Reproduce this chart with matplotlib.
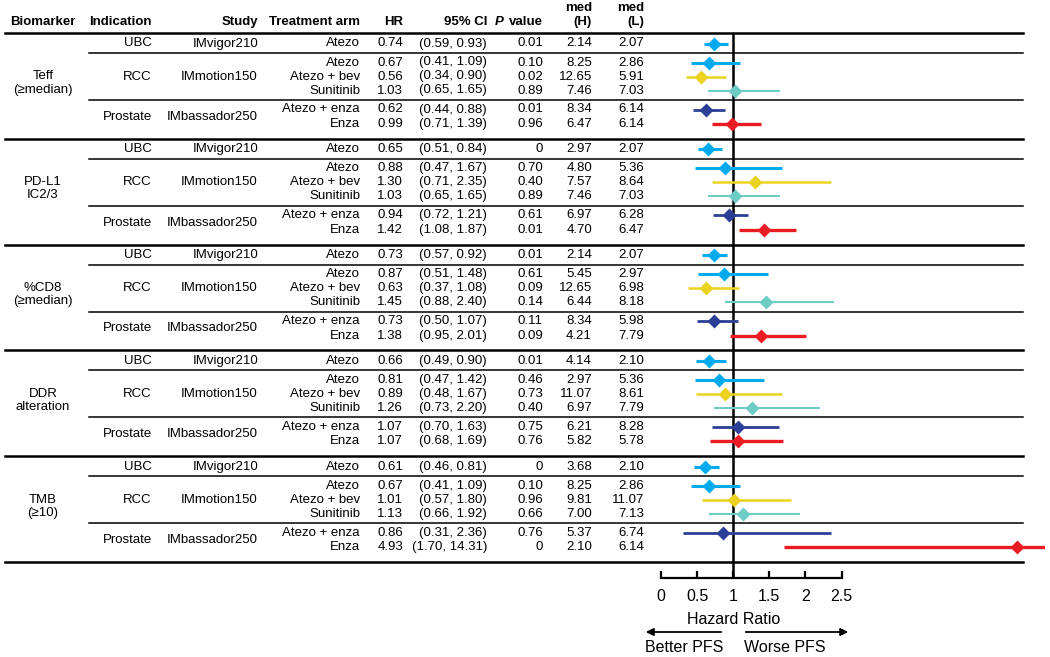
import numpy as np
import matplotlib.pyplot as plt

plt.rcParams['font.family'] = ['Liberation Sans', 'DejaVu Sans']

# table / forest data, one entry per row (5 biomarkers x 6 arms)
biomarkers = ['Teff\n(≥median)', 'PD-L1\nIC2/3', '%CD8\n(≥median)', 'DDR\nalteration', 'TMB\n(≥10)']
indications = ['UBC', 'RCC', 'Prostate']
studies = ['IMvigor210', 'IMmotion150', 'IMbassador250']
arms = ['Atezo', 'Atezo', 'Atezo + bev', 'Sunitinib', 'Atezo + enza', 'Enza']
arm_colors = ['#00aaee', '#00aaee', '#ebd21f', '#6dcdc4', '#2c3f96', '#ec1c24']
arm_widths = [2.2, 2.2, 1.8, 1.5, 2.0, 2.4]

hr = [0.74, 0.67, 0.56, 1.03, 0.62, 0.99,
      0.65, 0.88, 1.30, 1.03, 0.94, 1.42,
      0.73, 0.87, 0.63, 1.45, 0.73, 1.38,
      0.66, 0.81, 0.89, 1.26, 1.07, 1.07,
      0.61, 0.67, 1.01, 1.13, 0.86, 4.93]
ci_lo = [0.59, 0.41, 0.34, 0.65, 0.44, 0.71,
         0.51, 0.47, 0.71, 0.65, 0.72, 1.08,
         0.57, 0.51, 0.37, 0.88, 0.50, 0.95,
         0.49, 0.47, 0.48, 0.73, 0.70, 0.68,
         0.46, 0.41, 0.57, 0.66, 0.31, 1.70]
ci_hi = [0.93, 1.09, 0.90, 1.65, 0.88, 1.39,
         0.84, 1.67, 2.35, 1.65, 1.21, 1.87,
         0.92, 1.48, 1.08, 2.40, 1.07, 2.01,
         0.90, 1.42, 1.67, 2.20, 1.63, 1.69,
         0.81, 1.09, 1.80, 1.92, 2.36, 14.31]
p_val = [0.01, 0.10, 0.02, 0.89, 0.01, 0.96,
         0, 0.70, 0.40, 0.89, 0.61, 0.01,
         0.01, 0.61, 0.09, 0.14, 0.11, 0.09,
         0.01, 0.46, 0.73, 0.40, 0.75, 0.76,
         0, 0.10, 0.96, 0.66, 0.76, 0]
med_h = [2.14, 8.25, 12.65, 7.46, 8.34, 6.47,
         2.97, 4.80, 7.57, 7.46, 6.97, 4.70,
         2.14, 5.45, 12.65, 6.44, 8.34, 4.21,
         4.14, 2.97, 11.07, 6.97, 6.21, 5.82,
         3.68, 8.25, 9.81, 7.00, 5.37, 2.10]
med_l = [2.07, 2.86, 5.91, 7.03, 6.14, 6.14,
         2.07, 5.36, 8.64, 7.03, 6.28, 6.47,
         2.07, 2.97, 6.98, 8.18, 5.98, 7.79,
         2.10, 5.36, 8.61, 7.79, 8.28, 5.78,
         2.10, 2.86, 11.07, 7.13, 6.74, 6.14]

hr_ticks = [0, 0.5, 1, 1.5, 2, 2.5]

# layout, in pixels from the top-left
W, H = 1050, 657
top, sec_h = 33, 105.8
row_off = [10.5, 29.5, 43.5, 57.5, 76.5, 91]
ind_off = [10.5, 43.5, 83.75]
sep_off = [20, 67]
axis_y = 578
fs = 9.5

fig = plt.figure(figsize=(W / 100, H / 100), dpi=100)
tab = fig.add_axes([0, 0, 1, 1])
tab.set_xlim(0, W)
tab.set_ylim(H, 0)
tab.axis('off')

x0, x1 = 661, 1045
ax = fig.add_axes([x0 / W, (H - axis_y) / H, (x1 - x0) / W, (axis_y - top) / H])
ax.patch.set_alpha(0)
ax.set_xlim(0, (x1 - x0) / 72.2)
ax.set_ylim(axis_y, top)

# header
hdr = dict(fontsize=fs, fontweight='bold', va='center')
tab.text(43, 22, 'Biomarker', ha='center', **hdr)
tab.text(152, 22, 'Indication', ha='right', **hdr)
tab.text(258, 22, 'Study', ha='right', **hdr)
tab.text(360, 22, 'Treatment arm', ha='right', **hdr)
tab.text(403, 22, 'HR', ha='right', **hdr)
tab.text(487, 22, '95% CI', ha='right', **hdr)
tab.text(504, 22, 'P', ha='right', style='italic', **hdr)
tab.text(543, 22, 'value', ha='right', **hdr)
tab.text(592, 15, 'med\n(H)', ha='right', linespacing=1.15, **hdr)
tab.text(644, 15, 'med\n(L)', ha='right', linespacing=1.15, **hdr)
tab.plot([5, 1023], [top, top], color='black', lw=1.8)

cols = [360, 403, 487, 543, 592, 644]
for k, bm in enumerate(biomarkers):
    s = top + k * sec_h
    tab.text(43, s + 50, bm, ha='center', va='center', fontsize=fs, linespacing=1.15)
    for j in range(3):
        tab.text(152, s + ind_off[j], indications[j], ha='right', va='center', fontsize=fs)
        tab.text(258, s + ind_off[j], studies[j], ha='right', va='center', fontsize=fs)
    for so in sep_off:
        tab.plot([89, 1023], [s + so, s + so], color='black', lw=1.1)
    tab.plot([5, 1023], [s + sec_h, s + sec_h], color='black', lw=1.8)
    for r in range(6):
        i = k * 6 + r
        y = s + row_off[r]
        p = '0' if p_val[i] == 0 else f'{p_val[i]:.2f}'
        vals = [arms[r], f'{hr[i]:.2f}', f'({ci_lo[i]:.2f}, {ci_hi[i]:.2f})',
                p, f'{med_h[i]:.2f}', f'{med_l[i]:.2f}']
        for cx, v in zip(cols, vals):
            tab.text(cx, y, v, ha='right', va='center', fontsize=fs)
        ax.plot([ci_lo[i], ci_hi[i]], [y, y], color=arm_colors[r], lw=arm_widths[r],
                solid_capstyle='butt', zorder=3)
        ax.plot(hr[i], y, 'D', color=arm_colors[r], ms=7, mec='none', zorder=4)

ax.axvline(1, color='black', lw=1.8, zorder=2)

for side in ['top', 'right', 'left']:
    ax.spines[side].set_visible(False)
ax.spines['bottom'].set_bounds(0, 2.5)
ax.spines['bottom'].set_linewidth(1.6)
ax.set_yticks([])
ax.set_xticks(hr_ticks)
ax.set_xticklabels(['0', '0.5', '1', '1.5', '2', '2.5'])
ax.tick_params(axis='x', direction='in', length=5, width=1.6, pad=8, labelsize=11.5)

# axis title and arrows
tab.text(734, 620, 'Hazard Ratio', ha='center', va='center', fontsize=11.5)
tab.annotate('', xy=(643, 632), xytext=(724, 632),
             arrowprops=dict(arrowstyle='-|>', color='black', lw=1.3, mutation_scale=11))
tab.annotate('', xy=(851, 632), xytext=(743, 632),
             arrowprops=dict(arrowstyle='-|>', color='black', lw=1.3, mutation_scale=11))
tab.text(684, 647, 'Better PFS', ha='center', va='center', fontsize=11.5)
tab.text(785, 647, 'Worse PFS', ha='center', va='center', fontsize=11.5)

fig.savefig('out.png', dpi=100)
